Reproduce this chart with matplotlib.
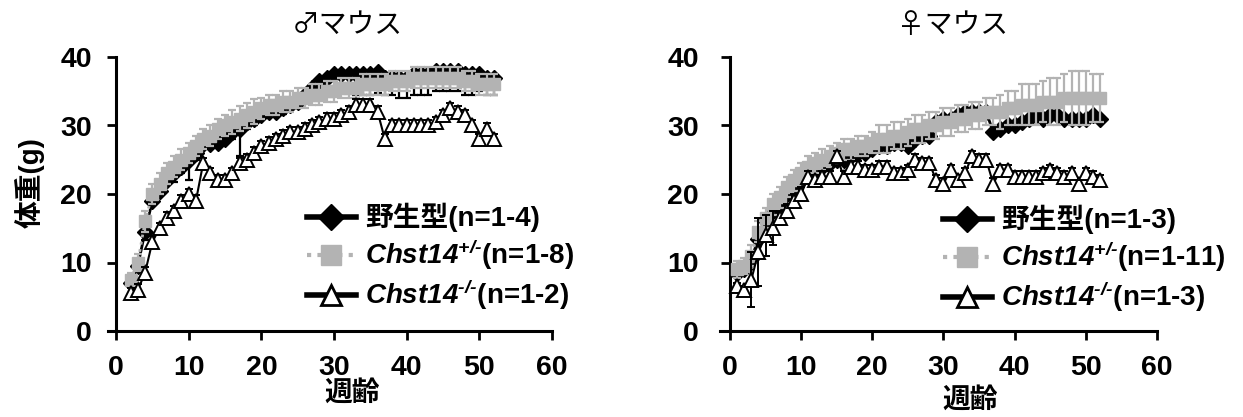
import matplotlib
matplotlib.use('Agg')
import matplotlib.pyplot as plt
from matplotlib.lines import Line2D

plt.rcParams['font.family'] = ['Liberation Sans', 'Noto Sans CJK JP']
plt.rcParams['font.weight'] = 'bold'
plt.rcParams['mathtext.fontset'] = 'custom'
plt.rcParams['mathtext.rm'] = 'Liberation Sans:italic:bold'
plt.rcParams['mathtext.it'] = 'Liberation Sans:italic:bold'
plt.rcParams['mathtext.bf'] = 'Liberation Sans:italic:bold'

# male mice, weeks 2-52
weeks_m = list(range(2, 53))
wt_m = [7, 9.5, 14.5, 19, 20.5, 22, 23, 24, 25, 26, 27.3, 27.3, 27.5, 28, 29, 29.5,
        30.5, 31, 31.5, 32, 32, 32.5, 33, 33.5, 34.5, 35.5, 36.5, 37, 37.5, 37.5, 37.5,
        37.5, 37.5, 37.5, 37.8, 37, 37, 37, 37, 37.5, 37.5, 37.5, 38, 38, 38, 38, 37.5, 37.5,
        37.5, 37, 37]
wt_m_err = [0.5, 0.8, 1.2, 0.6, 0.5, 0.5, 1.2, 1, 3, 1, 0.5, 0.5, 0.5, 0.5, 1, 4,
            1, 1, 0.5, 0.5, 0.5, 0.8, 0.5, 0.5, 0.8, 0.8, 0.8, 0.5, 0.5, 1.5, 2.5,
            3, 3, 3, 3, 2.5, 2.5, 3, 3, 3, 3, 3, 3, 3, 3, 3, 3, 3,
            2.5, 2.5, 2.5]
het_m = [7.5, 10, 16, 20, 21.5, 23, 24, 25, 26, 27, 28, 28.5, 29.5, 30, 30.5, 31, 31.5, 32,
         32.5, 33, 33, 33.5, 33.5, 34, 34, 34.5, 34.5, 35, 35, 35.5, 35.5, 35.5, 36, 36, 36,
         36, 36.5, 36.5, 36.5, 37, 37, 37, 37, 37, 37, 37, 36.5, 36.5, 36, 36, 36]
het_m_err = [1, 1.2, 1.5, 1.5, 1.5, 1.5, 1.5, 1.5, 1.5, 1.5, 1.5, 1.5, 1.5, 1.5, 1.8, 1.8, 1.8,
             1.8, 1.5, 1.5, 1.5, 1.5, 1.5, 1.5, 1.5, 1.5, 1.5, 1.5, 1.5, 1.5, 1.5, 1.5, 1.5,
             1.5, 1.5, 1.5, 1.5, 1.5, 1.5, 1.5, 1.5, 1.5, 1.5, 1.5, 1.5, 1.5, 1.5, 1.5, 1.5,
             1.5, 1.5]
ko_m = [5.5, 6, 8.5, 13, 15, 16.5, 17.5, 19, 20, 19, 24.5, 23, 22, 22, 23, 24.5, 25, 26, 27,
        27.5, 28, 28.5, 29, 29, 29.5, 30, 30.5, 31, 31, 31.5, 32, 33, 33, 33, 32, 28, 30, 30,
        30, 30, 30, 30, 30.5, 31.5, 32.5, 32, 31.5, 30, 28, 29.5, 28]
ko_m_err = [0.8] * 51

# female mice, weeks 1-52
weeks_f = list(range(1, 53))
wt_f = [8.5, 9, 10.5, 13.5, 16, 17.5, 18.5, 20, 21, 22, 23, 23.5, 24, 24.5, 25, 25, 25.5, 26,
        26, 26.5, 27, 27, 27.5, 27.5, 27, 28, 28.5, 28.5, 30.5, 31, 31, 31.5, 32, 32, 32, 32,
        29, 29.5, 30, 30, 30.5, 31, 31.5, 31, 31.5, 31.5, 31, 31, 31, 31, 31.5, 31]
wt_f_err = [0.5] * 52
het_f = [9, 9.5, 11, 14.5, 16.5, 18.5, 19.5, 21, 22, 23, 24, 24.5, 25, 25.5, 26, 26.5, 26.5,
         27, 27, 27.5, 28, 28, 28.5, 28.5, 29, 29.5, 29.5, 30, 30, 30.5, 30.5, 31, 31, 31.5,
         31.5, 32, 32, 32, 32.5, 32.5, 33, 33, 33, 33.5, 33.5, 33.5, 34, 34, 34, 34, 34, 34]
het_f_err = [1.2, 1.2, 1.5, 1.5, 1.5, 1.5, 1.5, 1.5, 1.5, 1.5, 1.5, 1.5, 1.5, 1.5, 1.5, 1.5,
             1.5, 1.5, 1.5, 1.5, 2, 2, 2, 2, 2, 2, 2, 2, 2, 2, 2, 2, 2, 2, 2, 2, 2, 2.5, 2.5,
             2.5, 3, 3, 3, 3, 3.5, 3.5, 3.5, 4, 4, 4, 3.5, 3.5]
ko_f = [6.5, 6, 7.5, 11.5, 14, 15, 16.5, 17.5, 19, 20, 22.5, 22, 22.5, 22.5, 25.5, 22.5, 24,
        24, 23.5, 23.5, 24, 24, 23, 23, 23.5, 25, 24.5, 24.5, 22, 21.5, 23.5, 22, 23, 25.5,
        25, 25, 21.5, 23.5, 23.5, 22.5, 22.5, 22.5, 22.5, 23, 23.5, 23, 22.5, 23, 21.5, 23,
        22.5, 22]
ko_f_err = [0.5, 0.5, 4, 5, 3, 2.5, 1, 1, 1, 1, 0.8, 0.8, 0.8, 0.8, 0.8, 0.8, 0.8, 0.8,
            0.8, 0.8, 0.8, 0.8, 0.8, 0.8, 0.8, 0.8, 0.8, 0.8, 0.8, 0.8, 0.8, 0.8, 0.8, 0.8,
            0.8, 0.8, 0.8, 0.8, 0.8, 0.8, 0.8, 0.8, 0.8, 0.8, 0.8, 0.8, 0.8, 0.8, 0.8, 0.8,
            0.8, 0.8]

labels_m = ['野生型(n=1-4)', r'$Chst14^{\text{+/-}}$(n=1-8)', r'$Chst14^{\text{-/-}}$(n=1-2)']
labels_f = ['野生型(n=1-3)', r'$Chst14^{\text{+/-}}$(n=1-11)', r'$Chst14^{\text{-/-}}$(n=1-3)']

GRAY = '#b3b3b3'

fig = plt.figure(figsize=(12.43, 4.17), dpi=100)
axL = fig.add_axes([108 / 1243, 86 / 417, 444 / 1243, 274 / 417])
axR = fig.add_axes([720 / 1243, 86 / 417, 437 / 1243, 274 / 417])


def draw(ax, x, wt, wt_err, het, het_err, ko, ko_err, xmin, ypad):
    # wild type: only the lower error bar is shown
    ax.errorbar(x, wt, yerr=[wt_err, [0] * len(wt_err)], fmt='none', ecolor='black',
                elinewidth=1.6, capsize=3, capthick=1.6, zorder=2)
    ax.plot(x, wt, color='black', lw=2, marker='D', ms=8, zorder=3)
    ax.errorbar(x, het, yerr=het_err, fmt='none', ecolor=GRAY, elinewidth=1.6,
                capsize=3, capthick=1.6, zorder=4)
    ax.plot(x, het, color=GRAY, lw=2, ls=':', marker='s', ms=9, mec=GRAY, zorder=5)
    ax.errorbar(x, ko, yerr=ko_err, fmt='none', ecolor='black', elinewidth=1.4,
                capsize=3, capthick=1.4, zorder=6)
    ax.plot(x, ko, color='black', lw=1.5, marker='^', ms=10, mfc='white', mec='black',
            mew=1.4, zorder=7)

    ax.set_xlim(xmin, 60)
    ax.set_ylim(0, 40)
    ax.set_xticks(range(0, 61, 10))
    ax.set_yticks(range(0, 41, 10))
    for s in ['top', 'right']:
        ax.spines[s].set_visible(False)
    ax.spines['left'].set_position(('data', 0))
    ax.spines['left'].set_linewidth(2.2)
    ax.spines['bottom'].set_linewidth(2.2)
    ax.tick_params(axis='both', length=6.5, width=2, labelsize=20.5)
    ax.tick_params(axis='x', pad=11)
    ax.tick_params(axis='y', pad=ypad)


draw(axL, weeks_m, wt_m, wt_m_err, het_m, het_m_err, ko_m, ko_m_err, -1.1, 11)
draw(axR, weeks_f, wt_f, wt_f_err, het_f, het_f_err, ko_f, ko_f_err, -1.4, 16)

handles = [
    Line2D([], [], color='black', lw=4, marker='D', ms=13),
    Line2D([], [], color=GRAY, lw=3, ls=(0, (1, 1.5)), marker='s', ms=14, mec=GRAY),
    Line2D([], [], color='black', lw=4, marker='^', ms=15, mfc='white', mec='black', mew=2),
]
for labels, x0, y0 in [(labels_m, 307, 203), (labels_f, 943, 205)]:
    fig.legend(handles, labels, loc='upper left', bbox_to_anchor=(x0 / 1243, 1 - y0 / 417),
               frameon=False, fontsize=20, handlelength=1.75, handletextpad=0.35,
               labelspacing=0.2, borderpad=0, borderaxespad=0)

fig.text(347 / 1243, 1 - 25 / 417, '♂マウス', ha='center', va='center', fontsize=20,
         fontweight='normal', family=['Noto Sans CJK JP'])
fig.text(953 / 1243, 1 - 25 / 417, '♀マウス', ha='center', va='center', fontsize=20,
         fontweight='normal', family=['Noto Sans CJK JP'])
fig.text(30 / 1243, 1 - 183 / 417, '体重(g)', rotation=90, ha='center', va='center',
         fontsize=20)
fig.text(352 / 1243, 1 - 394 / 417, '週齢', ha='center', va='center', fontsize=20)
fig.text(970 / 1243, 1 - 401 / 417, '週齢', ha='center', va='center', fontsize=20)

fig.savefig('out.png', dpi=100)
